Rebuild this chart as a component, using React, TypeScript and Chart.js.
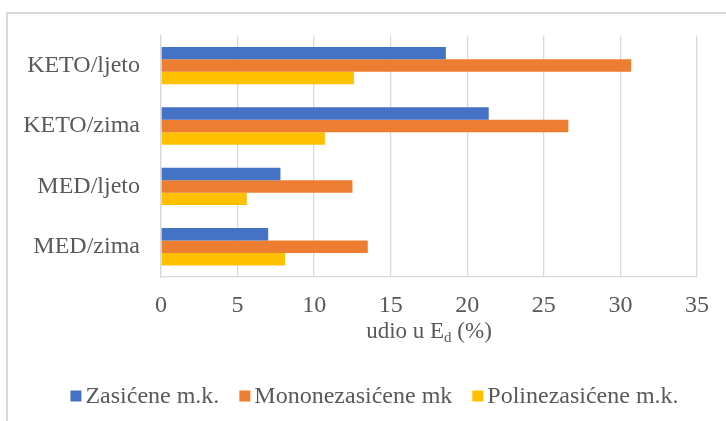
import React, { useEffect, useRef } from "react";
import { Chart, registerables } from "chart.js";

Chart.register(...registerables);

const categories = ["KETO/ljeto", "KETO/zima", "MED/ljeto", "MED/zima"];
const seriesNames = ["Zasićene m.k.", "Mononezasićene mk", "Polinezasićene m.k."];
const zasicene = [18.6, 21.4, 7.8, 7.0];
const mononezasicene = [30.7, 26.6, 12.5, 13.5];
const polinezasicene = [12.6, 10.7, 5.6, 8.1];
const xMin = 0;
const xMax = 35;
const xStep = 5;
const axisTitleMain = "udio u E";
const axisTitleSub = "d";
const axisTitleEnd = " (%)";

const seriesColors = ["#4472C4", "#ED7D31", "#FFC000"];
const FONT = '"Liberation Serif", "Times New Roman", Times, serif';
const TEXT = "#595959";
const GRID = "#d9d9d9";

const axisTitlePlugin = {
  id: "axisTitleSub",
  afterDraw(chart: any) {
    const { ctx, chartArea } = chart;
    const big = `23px ${FONT}`;
    const small = `15px ${FONT}`;
    ctx.save();
    ctx.fillStyle = TEXT;
    ctx.textBaseline = "alphabetic";
    ctx.textAlign = "left";
    ctx.font = big;
    const w1 = ctx.measureText(axisTitleMain).width;
    const w3 = ctx.measureText(axisTitleEnd).width;
    ctx.font = small;
    const w2 = ctx.measureText(axisTitleSub).width;
    const total = w1 + w2 + w3;
    const cx = (chartArea.left + chartArea.right) / 2;
    let x = cx - total / 2;
    const base = 338;
    ctx.font = big;
    ctx.fillText(axisTitleMain, x, base);
    x += w1;
    ctx.font = small;
    ctx.fillText(axisTitleSub, x, base + 4);
    x += w2;
    ctx.font = big;
    ctx.fillText(axisTitleEnd, x, base);
    ctx.restore();
  },
};

// Legend drawn from the chart's datasets (Excel-like tight box/text spacing)
const legendPlugin = {
  id: "excelLegend",
  afterDraw(chart: any) {
    const { ctx } = chart;
    const box = 11;
    const gap = 4;
    const itemGap = 20;
    const font = `24px ${FONT}`;
    const items = chart.data.datasets.map((d: any) => ({
      text: d.label as string,
      color: d.backgroundColor as string,
    }));
    ctx.save();
    ctx.font = font;
    const widths = items.map((it: any) => box + gap + ctx.measureText(it.text).width);
    const total = widths.reduce((a: number, b: number) => a + b, 0) + itemGap * (items.length - 1);
    const center = 374.5;
    let x = center - total / 2;
    const base = 403;
    items.forEach((it: any, i: number) => {
      ctx.fillStyle = it.color;
      ctx.fillRect(x, 390.5, box, box);
      ctx.fillStyle = TEXT;
      ctx.textAlign = "left";
      ctx.textBaseline = "alphabetic";
      ctx.fillText(it.text, x + box + gap, base);
      x += widths[i] + itemGap;
    });
    ctx.restore();
  },
};

export default function App() {
  const ref = useRef<HTMLCanvasElement>(null);

  useEffect(() => {
    let chart: any = null;
    let cancelled = false;
    const build = () => {
      if (cancelled || !ref.current) return;
      Chart.defaults.font.family = FONT;
      Chart.defaults.color = TEXT;
      chart = new Chart(ref.current, {
        type: "bar",
        data: {
          labels: categories,
          datasets: [
            { label: seriesNames[0], data: zasicene, backgroundColor: seriesColors[0] },
            { label: seriesNames[1], data: mononezasicene, backgroundColor: seriesColors[1] },
            { label: seriesNames[2], data: polinezasicene, backgroundColor: seriesColors[2] },
          ],
        },
        options: {
          indexAxis: "y",
          responsive: false,
          animation: false,
          layout: { padding: { left: 0, right: 29, top: 34, bottom: 57 } },
          datasets: {
            bar: { categoryPercentage: 0.62, barPercentage: 1.0 },
          },
          scales: {
            x: {
              min: xMin,
              max: xMax,
              ticks: { stepSize: xStep, padding: 14, color: TEXT, font: { size: 24, family: FONT } },
              grid: { color: GRID, lineWidth: 1.3, drawTicks: false },
              border: { display: true, color: GRID, width: 1.3 },
              afterFit: (scale: any) => {
                scale.height = 87;
              },
            },
            y: {
              ticks: { padding: 21, color: TEXT, font: { size: 24, family: FONT } },
              grid: { display: false, drawTicks: false },
              border: { display: true, color: GRID, width: 1.3 },
              afterFit: (scale: any) => {
                scale.width = 161;
              },
            },
          },
          plugins: {
            legend: { display: false },
            tooltip: { enabled: false },
          },
        },
        plugins: [axisTitlePlugin, legendPlugin],
      });
    };
    const fonts: any = (document as any).fonts;
    if (fonts && fonts.load) {
      Promise.all([
        fonts.load('24px "Liberation Serif"', "KETO/ljeto Zasićene 0123456789"),
        fonts.load('15px "Liberation Serif"', "d"),
      ])
        .catch(() => null)
        .then(() => build());
    } else {
      build();
    }
    return () => {
      cancelled = true;
      if (chart) chart.destroy();
    };
  }, []);

  return (
    <div
      style={{
        position: "absolute",
        left: 0,
        top: 0,
        width: 726,
        height: 421,
        overflow: "hidden",
        background: "#fff",
      }}
    >
      <div
        style={{
          position: "absolute",
          left: 6,
          top: 12,
          width: 800,
          height: 500,
          borderLeft: `2px solid ${GRID}`,
          borderTop: `2px solid ${GRID}`,
        }}
      />
      <canvas
        ref={ref}
        width={726}
        height={421}
        style={{ position: "absolute", left: 0, top: 0, width: 726, height: 421 }}
      />
    </div>
  );
}
